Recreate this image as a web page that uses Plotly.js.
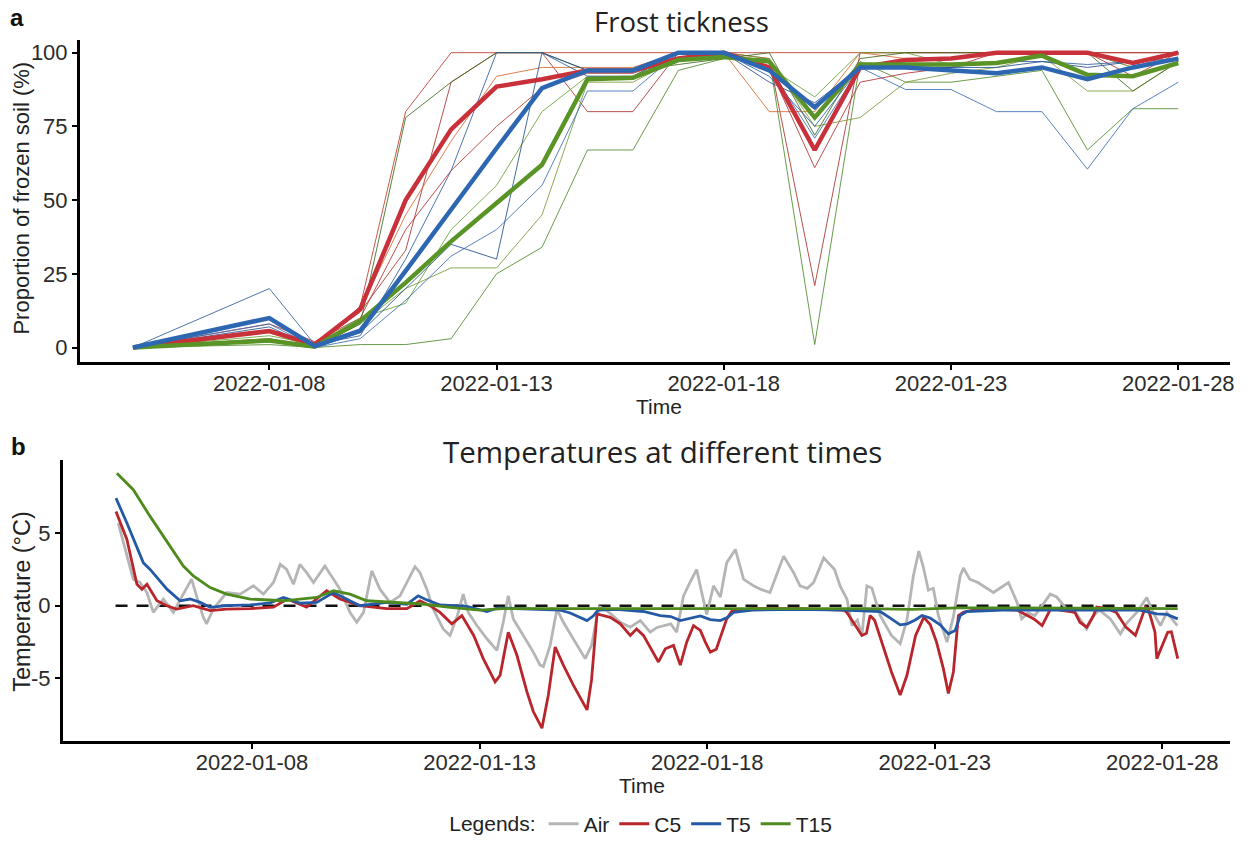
<!DOCTYPE html>
<html>
<head>
<meta charset="utf-8">
<script src="https://cdn.plot.ly/plotly-3.0.1.min.js"></script>
<style>html,body{margin:0;padding:0;background:#fff}#chart{width:1247px;height:845px}</style>
</head>
<body>
<div id="chart"></div>
<script>
// ---------- Panel a: proportion of frozen soil (%) ----------
const frostDates = ["2022-01-05","2022-01-08","2022-01-09","2022-01-10","2022-01-11","2022-01-12","2022-01-13","2022-01-14","2022-01-15","2022-01-16","2022-01-17","2022-01-18","2022-01-19","2022-01-20","2022-01-21","2022-01-22","2022-01-23","2022-01-24","2022-01-25","2022-01-26","2022-01-27","2022-01-28"];
const meanC5  = [0, 5.6, 1, 13, 50, 74, 88.5, 91, 94, 94, 98, 100, 95, 67, 95, 97.5, 98, 100, 100, 100, 96.5, 100];
const meanT5  = [0, 10, 0.5, 5.7, 26, 47, 67.6, 88, 94, 94, 100, 100, 94, 81.5, 95, 95, 94, 93, 95, 91, 95, 98];
const meanT15 = [0, 2.4, 0.3, 9, 22, 36, 49, 62, 91, 91.5, 97.5, 98.5, 97, 78, 96, 96, 96, 96.5, 99, 92.5, 92, 96.5];
const repC5 = [
  [0, 3, 0, 14, 80, 100, 100, 100, 100, 100, 100, 100, 100, 100, 100, 100, 100, 100, 100, 100, 100, 100],
  [0, 6, 1, 12, 33, 90, 100, 100, 80, 80, 100, 100, 98, 21, 100, 100, 100, 100, 100, 100, 100, 100],
  [0, 5, 0, 13, 45, 70, 92, 95, 95, 95, 100, 100, 80, 80, 100, 98, 98, 100, 100, 100, 95, 100],
  [0, 8, 2, 10, 40, 60, 75, 88, 93, 93, 98, 100, 95, 61, 90, 93, 95, 100, 100, 100, 92, 100]
];
const repT5 = [
  [0, 20, 1, 4, 30, 60, 100, 100, 92, 92, 100, 100, 92, 75, 95, 95, 95, 97, 97, 96, 97, 100],
  [0, 8, 0, 3, 16, 31, 40, 55, 87, 87, 100, 100, 95, 71, 95, 87.5, 87.5, 80, 80, 60.5, 81, 90],
  [0, 7, 0, 5, 20, 35, 30, 100, 94, 94, 100, 100, 90, 83, 95, 95, 95, 95, 97, 95, 97, 98]
];
const repT15 = [
  [0, 1, 0, 1, 1, 3, 25, 34, 67, 67, 94, 98, 98, 1, 97, 90, 90, 92, 94, 67, 81, 81],
  [0, 3, 0, 8, 20, 27, 27, 45, 90, 90, 98, 100, 98, 75, 78, 90, 93, 95, 99, 87, 87, 97],
  [0, 4, 1, 10, 15, 40, 55, 80, 92, 92, 100, 100, 95, 85, 100, 100, 96, 96, 100, 100, 95, 98],
  [0, 2, 0, 8, 78, 90, 100, 100, 94, 94, 96, 98, 100, 72, 98, 100, 100, 100, 100, 100, 87, 97]
];

// ---------- Panel b: temperatures (day of January 2022, °C) ----------
const airDay = [5.06,5.21,5.39,5.54,5.69,5.83,6.05,6.27,6.56,6.67,6.78,6.93,7.0,7.15,7.44,7.74,8.03,8.25,8.47,8.62,8.76,8.91,9.05,9.2,9.35,9.6,9.79,9.93,10.15,10.3,10.45,10.63,10.81,11.03,11.25,11.58,11.69,11.84,11.98,12.2,12.35,12.5,12.64,12.75,12.94,13.16,13.38,13.52,13.63,13.74,13.96,14.18,14.33,14.4,14.55,14.7,14.84,15.06,15.32,15.46,15.58,15.65,15.8,16.09,16.31,16.53,16.75,16.9,17.2,17.33,17.48,17.62,17.77,17.88,17.99,18.14,18.29,18.43,18.62,18.8,19.02,19.17,19.38,19.68,19.9,20.04,20.2,20.34,20.56,20.8,20.92,21.07,21.18,21.3,21.4,21.51,21.62,21.8,22.05,22.24,22.39,22.53,22.65,22.75,22.86,22.97,23.08,23.27,23.41,23.56,23.63,23.77,23.95,24.29,24.62,24.81,24.91,25.05,25.2,25.54,25.68,25.9,26.1,26.34,26.49,26.62,26.86,27.08,27.22,27.44,27.66,27.8,27.96,28.1,28.33];
const airT = [5.7,3.88,1.83,1.6,0.91,-0.46,0.46,-0.46,1.14,1.83,0.68,-0.8,-1.25,-0.23,0.91,0.8,1.37,0.8,1.6,2.85,2.51,1.48,2.85,2.28,1.6,2.74,1.83,1.14,-0.46,-1.14,-0.46,2.4,1.14,0.23,0.68,2.69,2.28,1.14,-0.23,-1.6,-2.05,-0.8,0.8,-0.46,-1.37,-2.28,-3.08,-1.14,0.68,-0.91,-2.05,-3.2,-4.1,-4.2,-2.74,-0.23,-1.14,-2.28,-3.65,-2.74,-0.68,-0.1,-0.34,-1.14,-1.48,-1.03,-1.83,-1.5,-1.25,-1.83,0.68,1.6,2.5,0.91,-0.6,1.37,0.6,2.97,3.88,1.83,1.37,1.14,0.91,3.42,2.28,1.37,1.2,1.6,3.3,2.5,1.37,0.46,-1.37,-1.0,-2.05,1.37,1.2,-0.68,-2.05,-2.62,-0.98,2.05,3.77,2.67,1.07,1.2,-0.68,-2.51,-0.76,2.05,2.6,1.83,1.6,0.91,1.6,0.23,-0.91,-0.5,-0.68,0.8,0.6,-0.23,-0.5,-1.6,-0.68,-0.3,-0.91,-1.94,-1.2,-0.46,0.57,-0.5,-1.37,-0.46,-1.37];

const c5Day = [5.01,5.25,5.47,5.58,5.69,5.91,6.13,6.34,6.71,7.08,7.44,7.96,8.47,8.77,9.2,9.64,9.93,10.37,10.96,11.4,11.54,11.69,11.91,12.13,12.39,12.61,12.87,13.08,13.34,13.45,13.63,13.82,14.04,14.18,14.37,14.51,14.66,14.84,15.06,15.36,15.46,15.58,15.87,16.09,16.31,16.45,16.6,16.93,17.08,17.26,17.41,17.55,17.7,17.85,17.96,18.07,18.2,18.43,18.55,19.0,20.0,21.0,21.07,21.25,21.4,21.5,21.58,21.68,21.84,22.05,22.24,22.39,22.58,22.76,22.9,23.04,23.19,23.3,23.41,23.52,23.63,24.0,24.81,25.03,25.18,25.36,25.47,25.55,26.08,26.19,26.34,26.49,26.56,26.8,26.99,27.2,27.41,27.52,27.63,27.7,27.84,27.88,28.0,28.12,28.2,28.34];
const c5T = [6.5,4.57,1.48,1.14,1.48,0.34,0,-0.23,0,-0.34,-0.23,-0.2,-0.1,0.46,-0.1,1.03,0.46,0,-0.2,-0.2,0.05,0.34,0,-0.46,-1.25,-0.68,-2.05,-3.65,-5.25,-4.8,-1.83,-3.42,-5.94,-7.3,-8.45,-6.16,-2.85,-4.1,-5.48,-7.19,-5.1,-0.57,-0.8,-1.25,-2.05,-1.6,-2.05,-3.88,-2.97,-2.74,-4.1,-2.51,-1.37,-1.7,-2.51,-3.2,-3.0,-0.91,-0.34,-0.2,-0.2,-0.3,-0.46,-1.37,-2.05,-1.9,-0.68,-1.0,-2.51,-4.57,-6.16,-4.8,-2.05,-0.8,-1.3,-2.51,-4.34,-6.05,-4.57,-0.68,-0.46,-0.2,-0.3,-0.68,-0.91,-1.37,-0.68,-0.2,-0.46,-1.14,-1.48,-0.68,-0.1,-0.2,-0.46,-1.48,-2.05,-1.0,-0.1,-0.3,-1.83,-3.65,-2.74,-1.83,-1.8,-3.65];

const t5Day = [5.01,5.25,5.61,5.76,6.13,6.42,6.64,6.86,7.08,7.44,7.96,8.4,8.69,9.05,9.42,9.79,10.37,10.96,11.4,11.65,11.84,12.13,12.72,13.16,13.4,14.0,14.77,14.99,15.2,15.36,15.5,15.6,16.0,16.6,16.97,17.2,17.41,17.7,17.85,18.07,18.29,18.45,18.58,19.0,20.0,21.0,21.8,22.0,22.24,22.4,22.57,22.72,22.9,23.12,23.3,23.45,23.56,23.7,24.5,25.5,26.5,27.5,27.88,28.1,28.34];
const t5T = [7.42,5.7,2.97,2.5,1.14,0.34,0.46,0.23,-0.11,0,0.05,0.2,0.57,0.18,0.23,0.91,0,0.23,0.1,0.68,0.4,0.05,-0.05,-0.4,-0.15,-0.2,-0.3,-0.5,-0.8,-1.03,-0.7,-0.3,-0.25,-0.4,-0.68,-0.75,-1.03,-0.8,-0.7,-0.96,-1.03,-0.8,-0.46,-0.3,-0.25,-0.3,-0.4,-0.8,-1.32,-1.25,-0.98,-0.68,-0.85,-1.32,-1.94,-1.71,-0.68,-0.4,-0.3,-0.3,-0.3,-0.3,-0.57,-0.6,-0.91];

const t15Day = [5.03,5.39,5.76,6.13,6.49,6.71,7.08,7.44,7.96,8.69,9.42,9.79,10.15,10.52,11.25,11.8,12.3,13.0,13.5,14.5,15.5,16.5,17.5,18.5,19.5,20.5,21.5,22.5,23.5,24.5,25.5,26.5,27.5,28.34];
const t15T = [9.13,8.0,6.16,4.45,2.74,2.05,1.25,0.8,0.46,0.34,0.57,1.03,0.8,0.34,0.18,0.1,-0.1,-0.3,-0.2,-0.2,-0.15,-0.2,-0.2,-0.15,-0.15,-0.2,-0.2,-0.25,-0.15,-0.15,-0.15,-0.2,-0.2,-0.2];

const tickDates = ["2022-01-08","2022-01-13","2022-01-18","2022-01-23","2022-01-28"];
const frostTicks = [0, 25, 50, 75, 100];
const tempTicks = [-5, 0, 5];

// ---------- helpers / styles ----------
function dayToDate(d){
  const ms = Date.UTC(2022,0,1) + (d-1)*86400000;
  return new Date(ms).toISOString().replace('T',' ').slice(0,19);
}
const RED = '#c8313a', BLUE = '#2e67b1', GREEN = '#5a9427', GRAY = '#b5b5b5';
const thinC5Colors = ['#c0392b', '#a8322a', '#d9682f', '#b5302f'];
const thinT5Colors = ['#2f5d9e', '#3b6db3', '#25508f'];
const thinT15Colors = ['#4f8a2c', '#7a9a3a', '#6aa33a', '#3e6a1e'];
const FONT = 'Liberation Sans, Arial, sans-serif';
const TFONT = 'Open Sans, sans-serif';

const traces = [];
function addThin(reps, colors){
  reps.forEach((r,i)=>traces.push({x:frostDates, y:r, type:'scatter', mode:'lines',
    line:{color:colors[i%colors.length], width:1}, opacity:0.85, showlegend:false, hoverinfo:'skip', xaxis:'x', yaxis:'y'}));
}
addThin(repC5, thinC5Colors);
addThin(repT15, thinT15Colors);
addThin(repT5, thinT5Colors);
[[meanC5, RED],[meanT15, GREEN],[meanT5, BLUE]].forEach(([m,c])=>traces.push({x:frostDates, y:m, type:'scatter', mode:'lines',
  line:{color:c, width:4.5}, showlegend:false, xaxis:'x', yaxis:'y'}));

const tempSeries = [
  ['Air', airDay, airT, GRAY],
  ['C5', c5Day, c5T, '#b8262c'],
  ['T5', t5Day, t5T, '#2459a6'],
  ['T15', t15Day, t15T, '#4f8a1e']
];
tempSeries.forEach(([name, d, v, c])=>traces.push({x:d.map(dayToDate), y:v, name:name, type:'scatter', mode:'lines',
  line:{color:c, width:2.8}, xaxis:'x2', yaxis:'y2'}));

const axisCommon = {showline:true, linecolor:'#000', linewidth:3, ticks:'outside', ticklen:5, tickwidth:2, tickcolor:'#000',
  showgrid:false, zeroline:false, tickfont:{family:FONT, size:22, color:'#2b2b2b'}};

const layout = {
  width:1247, height:845, paper_bgcolor:'#fff', plot_bgcolor:'#fff',
  margin:{l:0, r:0, t:0, b:0},
  font:{family:FONT, color:'#222'},
  xaxis: Object.assign({}, axisCommon, {type:'date', domain:[80/1247, 1230/1247], anchor:'y', ticklabelstandoff:-6,
    range:['2022-01-03 20:02','2022-01-29 03:17'], tickvals:tickDates, ticktext:tickDates}),
  yaxis: Object.assign({}, axisCommon, {domain:[1-365/845, 1-40/845], anchor:'x', range:[-5.05, 104.4],
    tickvals:frostTicks, ticktext:frostTicks.map(String)}),
  xaxis2: Object.assign({}, axisCommon, {type:'date', domain:[63/1247, 1230/1247], anchor:'y2', ticklabelstandoff:-6,
    range:['2022-01-03 20:18','2022-01-29 11:43'], tickvals:tickDates, ticktext:tickDates}),
  yaxis2: Object.assign({}, axisCommon, {domain:[1-746.7/845, 1-463/845], anchor:'x2', range:[-9.36, 10.07],
    tickvals:tempTicks, ticktext:tempTicks.map(String)}),
  shapes:[{type:'line', xref:'x2', yref:'y2', x0:'2022-01-05 00:00', x1:'2022-01-28 08:00', y0:0, y1:0,
    line:{color:'#111', width:2.5, dash:'12px,9px'}, layer:'below'}],
  showlegend:true,
  legend:{orientation:'h', x:0.515, xanchor:'center', y:1-830/845, yanchor:'middle',
    font:{family:FONT, size:21, color:'#222'}, title:{text:'Legends:', side:'left', font:{family:FONT, size:21, color:'#222'}},
    itemwidth:30, bgcolor:'rgba(0,0,0,0)'},
  annotations:[
    {text:'<b>a</b>', xref:'paper', yref:'paper', x:8/1247, y:1-18/845, xanchor:'left', yanchor:'middle', showarrow:false, font:{family:FONT, size:24, color:'#111'}},
    {text:'<b>b</b>', xref:'paper', yref:'paper', x:9/1247, y:1-450/845, xanchor:'left', yanchor:'middle', showarrow:false, font:{family:FONT, size:24, color:'#111'}},
    {text:'Frost tickness', xref:'paper', yref:'paper', x:681/1247, y:1-22/845, xanchor:'center', yanchor:'middle', showarrow:false, font:{family:TFONT, size:27.5, color:'#222'}},
    {text:'Temperatures at different times', xref:'paper', yref:'paper', x:662/1247, y:1-455/845, xanchor:'center', yanchor:'middle', showarrow:false, font:{family:TFONT, size:29.5, color:'#222'}},
    {text:'Proportion of frozen soil (%)', xref:'paper', yref:'paper', x:22/1247, y:1-200/845, xanchor:'center', yanchor:'middle', textangle:-90, showarrow:false, font:{family:FONT, size:22, color:'#222'}},
    {text:'Temperature (°C)', xref:'paper', yref:'paper', x:22/1247, y:1-606/845, xanchor:'center', yanchor:'middle', textangle:-90, showarrow:false, font:{family:FONT, size:23.5, color:'#222'}},
    {text:'Time', xref:'paper', yref:'paper', x:659/1247, y:1-409/845, xanchor:'center', yanchor:'middle', showarrow:false, font:{family:FONT, size:21, color:'#222'}},
    {text:'Time', xref:'paper', yref:'paper', x:642/1247, y:1-791/845, xanchor:'center', yanchor:'middle', showarrow:false, font:{family:FONT, size:21, color:'#222'}}
  ]
};

Plotly.newPlot('chart', traces, layout, {displayModeBar:false, staticPlot:true});
</script>
</body>
</html>
